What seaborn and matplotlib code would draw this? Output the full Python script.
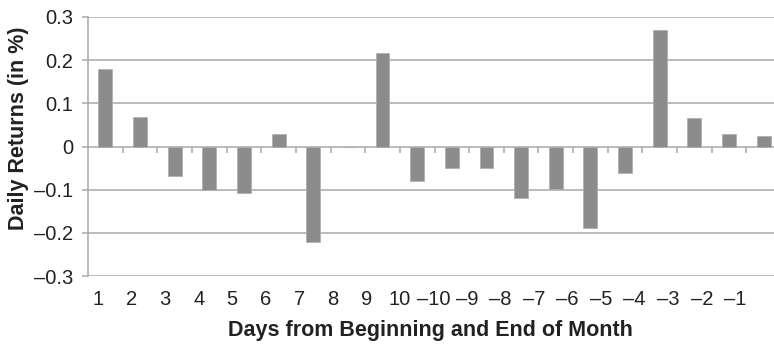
import matplotlib
matplotlib.use("Agg")
import matplotlib.pyplot as plt
import seaborn as sns
import pandas as pd

days = ["1", "2", "3", "4", "5", "6", "7", "8", "9", "10",
        "\u201310", "\u20139", "\u20138", "\u20137", "\u20136", "\u20135", "\u20134", "\u20133", "\u20132", "\u20131"]
returns = [0.18, 0.068, -0.068, -0.100, -0.108, 0.030, -0.222, 0.0, 0.216, -0.079,
           -0.050, -0.049, -0.119, -0.098, -0.188, -0.062, 0.270, 0.067, 0.030, 0.024]
yticks = [0.3, 0.2, 0.1, 0.0, -0.1, -0.2, -0.3]
ytick_labels = ["0.3", "0.2", "0.1", "0", "\u20130.1", "\u20130.2", "\u20130.3"]

sns.set_theme(style="white")
plt.rcParams['font.family'] = ['Liberation Sans', 'DejaVu Sans']

df = pd.DataFrame({"day": days, "ret": returns})

fig = plt.figure(figsize=(7.74, 3.49), dpi=100)
ax = fig.add_axes([88/774, 1 - 276/349, 693/774, 259/349])

grid_c = "#a8a8a8"
for y in yticks:
    ax.axhline(y, color=grid_c, lw=1.1, zorder=0)

sns.barplot(data=df, x="day", y="ret", order=days, color="#8c8c8c",
            saturation=1, width=0.4, edgecolor="#b0b0b0", linewidth=0.6, ax=ax, zorder=2)

n = len(days)
ax.set_xlim(-0.5, n - 0.5)
ax.set_ylim(-0.3, 0.3)

# category boundary ticks hanging from zero line
ax.vlines([k + 0.5 for k in range(n - 1)], -0.014, 0, color=grid_c, lw=1.1, zorder=1)

# x tick labels (spaced slightly tighter than bars, as in the reference)
ax.set_xticks([i * 0.968 - 0.21 for i in range(n)])
ax.set_xticklabels(days, fontsize=14.5, color="#222222")
ax.tick_params(axis="x", length=0, pad=10)

ax.set_yticks(yticks)
ax.set_yticklabels(ytick_labels, fontsize=14.5, color="#222222")
ax.tick_params(axis="y", length=4.5, width=1.1, color=grid_c, pad=6, left=True)

for s in ["top", "right", "bottom"]:
    ax.spines[s].set_visible(False)
ax.spines["left"].set_color(grid_c)
ax.spines["left"].set_linewidth(1.1)

ax.set_xlabel("Days from Beginning and End of Month", fontsize=15.5, fontweight="bold", color="#222222")
ax.set_ylabel("Daily Returns (in %)", fontsize=15.5, fontweight="bold", color="#222222")
ax.xaxis.set_label_coords((430 - 88) / 693, (276 - 320) / 259)
ax.yaxis.set_label_coords((29 - 88) / 693, (276 - 128) / 259)

fig.savefig("out.png", dpi=100)
